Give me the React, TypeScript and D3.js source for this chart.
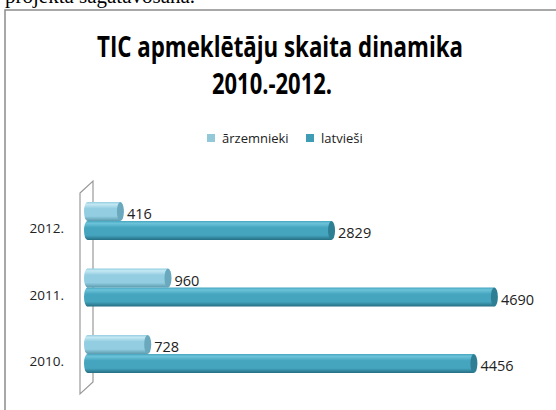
import * as d3 from 'd3';

const years = ['2012.', '2011.', '2010.'];
const series = ['ārzemnieki', 'latvieši'];
const arzemnieki = [416, 960, 728];
const latviesi = [2829, 4690, 4456];
const values = [arzemnieki, latviesi];

const colors = [
  { top: '#c4e8f3', mid: '#92cde1', bot: '#5b9aae', cap: '#6aa9bd', legend: '#93c8d9' },
  { top: '#6cc3d9', mid: '#45a5bf', bot: '#256e82', cap: '#2f7f94', legend: '#3e9cb5' },
];

const W = 556;
const H = 410;

export default function App() {
  const x = d3.scaleLinear().domain([0, 5000]).range([84, 521.5]);
  const y = d3.scaleBand().domain(years).range([187.75, 387.25]);
  const sub = d3.scaleBand().domain(series).range([-19, 19]);
  const bh = sub.bandwidth();
  const font = '"Open Sans", sans-serif';

  // 3D wall on the left
  const wall = 'M80,193 L93,181 L93,382 L80,394 Z';

  return (
    <svg width={W} height={H} style={{ position: 'absolute', left: 0, top: 0, background: '#fff' }}>
      <defs>
        {colors.map((c, i) => (
          <linearGradient key={i} id={'g' + i} x1="0" y1="0" x2="0" y2="1">
            <stop offset="0" stopColor={c.mid} />
            <stop offset="0.12" stopColor={c.top} />
            <stop offset="0.35" stopColor={c.mid} />
            <stop offset="0.75" stopColor={c.mid} />
            <stop offset="1" stopColor={c.bot} />
          </linearGradient>
        ))}
      </defs>
      <text x={5} y={3} fontFamily='"Liberation Serif", serif' fontSize={21}>projekta sagatavošana.</text>
      <rect x={5} y={10} width={W + 10} height={H + 10} fill="#fff" stroke="#8c8c8c" strokeWidth={1.5} />
      <text x={280} y={57} textAnchor="middle" fontFamily={font} fontWeight="bold" fontSize={28}
        textLength={366} lengthAdjust="spacingAndGlyphs">TIC apmeklētāju skaita dinamika</text>
      <text x={272} y={94} textAnchor="middle" fontFamily={font} fontWeight="bold" fontSize={28}
        textLength={120} lengthAdjust="spacingAndGlyphs">2010.-2012.</text>

      {series.map((s, i) => {
        const lx = i === 0 ? 207 : 306;
        return (
          <g key={s}>
            <rect x={lx} y={134} width={8} height={8} fill={colors[i].legend} />
            <text x={lx + 15} y={143} fontFamily={font} fontSize={13} fill="#222">{s}</text>
          </g>
        );
      })}

      <path d={wall} fill="none" stroke="#9a9a9a" strokeWidth={1.2} />

      {years.map((yr, j) => {
        const cy = (y(yr) as number) + y.bandwidth() / 2;
        return (
          <g key={yr}>
            <text x={64} y={cy + 12} textAnchor="end" fontFamily={font} fontSize={13.5} fill="#222">{yr}</text>
            {series.map((s, i) => {
              const v = values[i][j];
              const y0 = cy + (sub(s) as number);
              const x0 = x(0);
              const x1 = x(v);
              const rx = 3.5;
              return (
                <g key={s}>
                  <ellipse cx={x0 + rx} cy={y0 + bh / 2} rx={rx} ry={bh / 2} fill={`url(#g${i})`} />
                  <rect x={x0 + rx} y={y0} width={x1 - x0 - rx} height={bh} fill={`url(#g${i})`} />
                  <ellipse cx={x1} cy={y0 + bh / 2} rx={rx} ry={bh / 2} fill={colors[i].cap} />
                  <text x={x1 + rx + 3} y={y0 + bh - 2} fontFamily={font} fontSize={14.5} fill="#222">{v}</text>
                </g>
              );
            })}
          </g>
        );
      })}
    </svg>
  );
}
